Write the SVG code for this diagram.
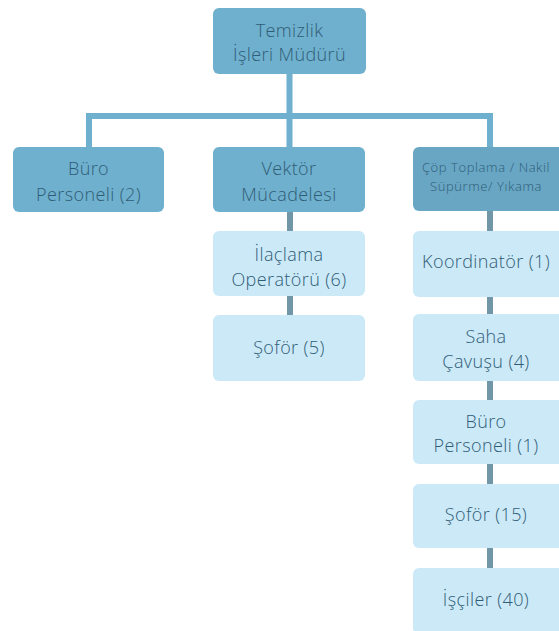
<svg xmlns="http://www.w3.org/2000/svg" width="559" height="631" viewBox="0 0 559 631">
<style>
.bg{fill:#ffffff}
.dk{fill:#6fb0ce}
.dk2{fill:#68a6c4}
.lt{fill:#cce9f8}
.t{font-family:"Open Sans","Liberation Sans",sans-serif;font-size:18px;font-weight:300;letter-spacing:0.4px;fill:#2f5d76;text-anchor:middle}
.ts{font-family:"Open Sans","Liberation Sans",sans-serif;font-size:13px;font-weight:300;letter-spacing:0.6px;fill:#2f5d76;text-anchor:middle}
.c1{stroke:#6fb0ce;stroke-width:6;fill:none}
.c2{stroke:#7096a8;stroke-width:6;fill:none}
</style>
<rect class="bg" x="0" y="0" width="559" height="631"/>
<g id="connectors">
<path class="c1" d="M289.5 74 V116 M86 116 H493 M89 113 V147 M289.5 116 V147 M490 113 V147"/>
<path class="c2" d="M290 212 V231 M290 296 V315 M490 211 V231 M490 297 V314 M490 381 V400 M490 464 V484 M490 548 V568"/>
</g>
<g id="n-mudur">
<rect class="dk" x="213" y="8" width="153" height="66" rx="6"/>
<text class="t" x="289.5" y="37">Temizlik</text>
<text class="t" x="289.5" y="61">İşleri Müdürü</text>
</g>
<g id="n-buro2">
<rect class="dk" x="13" y="147" width="151" height="65" rx="6"/>
<text class="t" x="88.5" y="175">Büro</text>
<text class="t" x="88.5" y="201">Personeli (2)</text>
</g>
<g id="n-vektor">
<rect class="dk" x="213" y="147" width="152" height="65" rx="6"/>
<text class="t" x="289" y="175">Vektör</text>
<text class="t" x="289" y="201">Mücadelesi</text>
</g>
<g id="n-cop">
<rect class="dk2" x="413" y="147" width="152" height="64" rx="6"/>
<text class="ts" x="486" y="172">Çöp Toplama / Nakil</text>
<text class="ts" x="486" y="190.5">Süpürme/ Yıkama</text>
</g>
<g id="n-ilaclama">
<rect class="lt" x="213" y="231" width="152" height="65" rx="6"/>
<text class="t" x="289" y="261">İlaçlama</text>
<text class="t" x="289" y="286">Operatörü (6)</text>
</g>
<g id="n-sofor5">
<rect class="lt" x="213" y="315" width="152" height="66" rx="6"/>
<text class="t" x="289" y="354">Şoför (5)</text>
</g>
<g id="n-koord">
<rect class="lt" x="413" y="231" width="152" height="66" rx="6"/>
<text class="t" x="486" y="268">Koordinatör (1)</text>
</g>
<g id="n-saha">
<rect class="lt" x="413" y="314" width="152" height="67" rx="6"/>
<text class="t" x="486" y="343">Saha</text>
<text class="t" x="486" y="368">Çavuşu (4)</text>
</g>
<g id="n-buro1">
<rect class="lt" x="413" y="400" width="152" height="64" rx="6"/>
<text class="t" x="486" y="428">Büro</text>
<text class="t" x="486" y="452">Personeli (1)</text>
</g>
<g id="n-sofor15">
<rect class="lt" x="413" y="484" width="152" height="64" rx="6"/>
<text class="t" x="486" y="521">Şoför (15)</text>
</g>
<g id="n-isciler">
<rect class="lt" x="413" y="568" width="152" height="66" rx="6"/>
<text class="t" x="486" y="606">İşçiler (40)</text>
</g>
</svg>
